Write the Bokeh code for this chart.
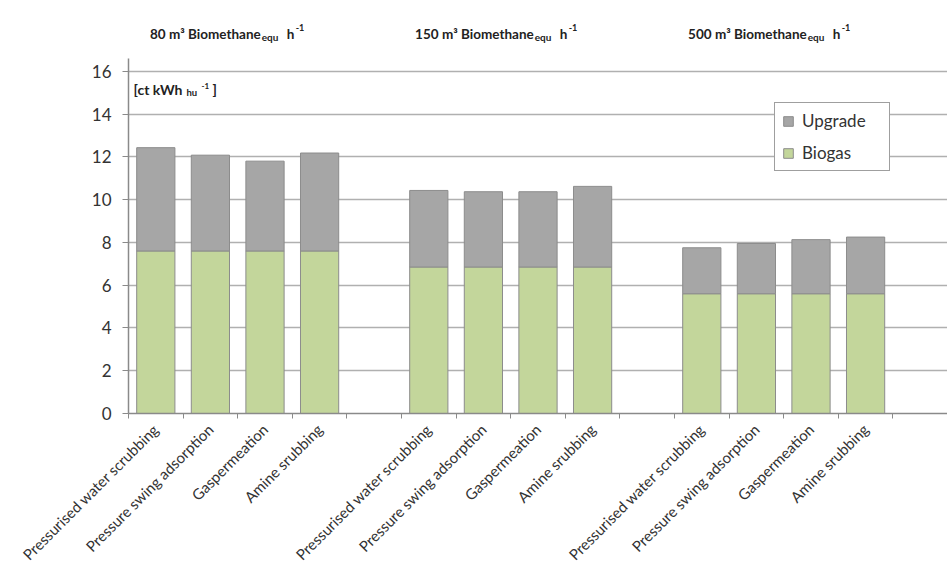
import numpy as np
from bokeh.plotting import figure
from bokeh.models import ColumnDataSource, FixedTicker, Range1d, Label, Legend, LegendItem
from bokeh.embed import file_html
from bokeh.resources import INLINE

# Plant sizes (m³ biomethane equivalent per hour) and upgrading technologies
plant_sizes = ["80", "150", "500"]
technologies = ["Pressurised water scrubbing", "Pressure swing adsorption",
                "Gaspermeation", "Amine srubbing"]

# Cost shares in ct per kWh (Hs), one list per plant size
biogas_80 = [7.6, 7.6, 7.6, 7.6]
upgrade_80 = [4.83, 4.48, 4.20, 4.58]
biogas_150 = [6.85, 6.85, 6.85, 6.85]
upgrade_150 = [3.58, 3.52, 3.52, 3.77]
biogas_500 = [5.6, 5.6, 5.6, 5.6]
upgrade_500 = [2.15, 2.35, 2.53, 2.65]

y_ticks = [0, 2, 4, 6, 8, 10, 12, 14, 16]

FONT = "Lato"
GREEN = "#c3d69b"
GREY = "#a6a6a6"
EDGE = "#8c8c8c"
TEXT = "#333333"

# Each plant size occupies 5 slots: 4 bars plus one empty gap slot
SLOTS_PER_GROUP = len(technologies) + 1
N_SLOTS = SLOTS_PER_GROUP * len(plant_sizes)
Y_MAX = 16.6          # top of the value axis

biogas = biogas_80 + biogas_150 + biogas_500
upgrade = upgrade_80 + upgrade_150 + upgrade_500
xs, labels = [], []
for g in range(len(plant_sizes)):
    for i, tech in enumerate(technologies):
        xs.append(g * SLOTS_PER_GROUP + i + 0.5)
        labels.append(tech)

src = ColumnDataSource(dict(x=xs, biogas=biogas, upgrade=upgrade))

W, H = 947, 576
BORDER_L, BORDER_B = 128, 163
AXIS_TOP_PX = 58      # pixel row where the value axis ends
ppu = (H - BORDER_B - AXIS_TOP_PX) / Y_MAX
Y_TOP = Y_MAX + AXIS_TOP_PX / ppu   # frame runs to the top so headings fit inside

p = figure(width=W, height=H, x_range=Range1d(0, N_SLOTS), y_range=Range1d(0, Y_TOP),
           min_border_left=BORDER_L, min_border_right=0, min_border_top=0,
           min_border_bottom=BORDER_B, output_backend="svg", toolbar_location=None)
p.outline_line_color = None
p.background_fill_color = "white"
p.border_fill_color = "white"

renderers = p.vbar_stack(["biogas", "upgrade"], x="x", width=0.7, source=src,
                         fill_color=[GREEN, GREY], line_color=EDGE, line_width=1)

# Axes
p.xaxis.ticker = FixedTicker(ticks=xs, minor_ticks=list(range(N_SLOTS + 1)))
p.xaxis.major_label_overrides = {x: lab for x, lab in zip(xs, labels)}
p.xaxis.major_tick_line_color = None
p.xaxis.major_tick_out = 4
p.xaxis.major_label_standoff = 8
p.xaxis.minor_tick_out = 5
p.xaxis.minor_tick_in = 0
p.xaxis.minor_tick_line_color = "#8a8a8a"
p.xaxis.major_label_orientation = np.pi / 4
p.xaxis.major_label_text_font = FONT
p.xaxis.major_label_text_font_size = "15px"
p.xaxis.major_label_text_color = TEXT
p.xaxis.axis_line_color = "#8a8a8a"
p.xaxis.axis_line_width = 1.5

p.yaxis.ticker = FixedTicker(ticks=y_ticks, minor_ticks=[])
p.yaxis.bounds = (0, Y_MAX)
p.yaxis.major_tick_out = 6
p.yaxis.major_tick_in = 0
p.yaxis.major_tick_line_color = "#8a8a8a"
p.yaxis.major_label_standoff = 11
p.yaxis.major_label_text_font = FONT
p.yaxis.major_label_text_font_size = "17px"
p.yaxis.major_label_text_color = TEXT
p.yaxis.axis_line_color = "#8a8a8a"
p.yaxis.axis_line_width = 1.5

p.xgrid.visible = False
p.ygrid.grid_line_color = "#b0b0b0"
p.ygrid.grid_line_width = 1.5

# Legend
legend = Legend(items=[LegendItem(label="Upgrade", renderers=[renderers[1]]),
                       LegendItem(label="Biogas", renderers=[renderers[0]])],
                location=(646, 242), padding=7, spacing=11, label_height=18,
                glyph_width=12, glyph_height=12, label_standoff=8, label_width=80,
                label_text_font=FONT, label_text_font_size="17px",
                label_text_color=TEXT, border_line_color="#404040",
                border_line_width=1.5, background_fill_alpha=1.0, margin=0)
p.add_layout(legend)


def y_at(py):
    """Data y for a pixel row measured from the top of the canvas."""
    return Y_TOP - py / ppu


def add_text(x, py, text, size, dx=0, align="left", bold=True):
    p.add_layout(Label(x=x, y=y_at(py), x_offset=dx, text=text, text_font=FONT,
                       text_font_size=size, text_font_style="bold" if bold else "normal",
                       text_color="#222222", text_align=align,
                       text_baseline="alphabetic"))


# Group headings: "<n> m³ Biomethane_equ h^-1"
for g, size in enumerate(plant_sizes):
    cx = g * SLOTS_PER_GROUP + len(technologies) / 2
    add_text(cx, 33, f"{size} m³ Biomethane", "13.5px", dx=23, align="right")
    add_text(cx, 36, "equ", "10px", dx=24)
    add_text(cx, 33, "h", "13.5px", dx=49)
    add_text(cx, 27, "-1", "9px", dx=58)

# Unit label inside the frame
add_text(0, 89, "[ct kWh", "14px", dx=5)
add_text(0, 92, "hu", "9.5px", dx=58)
add_text(0, 85, "-1", "8px", dx=73)
add_text(0, 89, "]", "14px", dx=84)

open("out.html", "w").write(file_html(p, INLINE))
